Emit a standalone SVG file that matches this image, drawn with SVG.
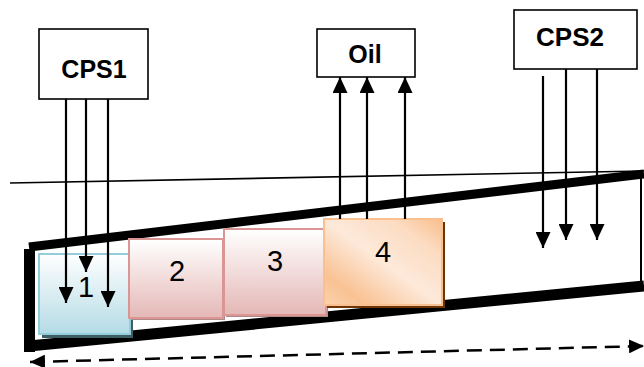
<svg xmlns="http://www.w3.org/2000/svg" width="644" height="367" viewBox="0 0 644 367">
<defs>
<style>
.box{fill:#fff;stroke:#000;stroke-width:1.6}
.lbl{font-family:"Liberation Sans",Arial,sans-serif;font-weight:bold;font-size:25px;fill:#000;text-anchor:middle}
.num{font-family:"Liberation Sans",Arial,sans-serif;font-size:29px;fill:#000;text-anchor:middle}
.wall{stroke:#000;fill:none;stroke-linecap:butt}
.conn{stroke:#000;stroke-width:2.2;fill:none;marker-end:url(#ah)}
</style>
<marker id="ah" markerUnits="userSpaceOnUse" markerWidth="16" markerHeight="15" refX="16" refY="7.5" orient="auto">
<path d="M0,0 L16,7.5 L0,15 z" fill="#000"/>
</marker>
<marker id="ahs" markerUnits="userSpaceOnUse" markerWidth="15" markerHeight="14" refX="15" refY="7" orient="auto-start-reverse">
<path d="M0,0 L15,7 L0,14 z" fill="#000"/>
</marker>
<linearGradient id="gBlue" x1="0" y1="0" x2="0" y2="1">
<stop offset="0" stop-color="#ffffff"/>
<stop offset="1" stop-color="#b4dbe5"/>
</linearGradient>
<linearGradient id="gPink" x1="0" y1="0" x2="0" y2="1">
<stop offset="0" stop-color="#ffffff"/>
<stop offset="1" stop-color="#e4b8b6"/>
</linearGradient>
<linearGradient id="gOrange" x1="0" y1="1" x2="1" y2="0">
<stop offset="0" stop-color="#fbd2ad"/>
<stop offset="0.18" stop-color="#f9c293"/>
<stop offset="0.5" stop-color="#fde9da"/>
<stop offset="0.78" stop-color="#fcdcc2"/>
<stop offset="1" stop-color="#f9be8c"/>
</linearGradient>
</defs>
<rect width="644" height="367" fill="#fff"/>

<g id="channel">
<line x1="10" y1="183" x2="644" y2="171" stroke="#000" stroke-width="1.6"/>
<line class="wall" x1="29" y1="247" x2="644" y2="174" stroke-width="9"/>
<line class="wall" x1="29" y1="346" x2="644" y2="286" stroke-width="11"/>
<line class="wall" x1="29.5" y1="249" x2="29.5" y2="352" stroke-width="11"/>
<line class="wall" x1="641" y1="176" x2="641" y2="284" stroke-width="2"/>
</g>

<g id="block1">
<rect x="42" y="257" width="91" height="81" fill="#3d5d63"/>
<rect x="39" y="254" width="91" height="80" fill="url(#gBlue)" stroke="#93cddb" stroke-width="2"/>
<text class="num" x="86" y="297">1</text>
</g>
<g id="block2">
<rect x="131" y="241" width="94" height="79" fill="#b08886"/>
<rect x="129" y="239" width="94" height="79" fill="url(#gPink)" stroke="#d99694" stroke-width="2"/>
<text class="num" x="177" y="281">2</text>
</g>
<g id="block3">
<rect x="226" y="231" width="102" height="86" fill="#b08886"/>
<rect x="224" y="229" width="102" height="86" fill="url(#gPink)" stroke="#d99694" stroke-width="2"/>
<text class="num" x="275" y="271">3</text>
</g>
<g id="block4">
<rect x="327" y="222" width="118" height="86" fill="#6b3505"/>
<rect x="324" y="219" width="118" height="86" fill="url(#gOrange)" stroke="#fac090" stroke-width="2"/>
<text class="num" x="383" y="262">4</text>
</g>

<g id="cps1">
<rect class="box" x="39" y="29" width="109" height="70"/>
<text class="lbl" x="94" y="78">CPS1</text>
</g>
<g id="oil">
<rect class="box" x="317" y="29" width="98" height="48"/>
<text class="lbl" x="365" y="63">Oil</text>
</g>
<g id="cps2">
<rect class="box" x="514" y="10" width="123" height="59"/>
<text class="lbl" x="570" y="46" style="font-size:26px">CPS2</text>
</g>

<g id="connectors">
<line class="conn" x1="66" y1="99" x2="66" y2="303"/>
<line class="conn" x1="86" y1="99" x2="86" y2="272"/>
<line class="conn" x1="108" y1="99" x2="108" y2="307"/>
<line class="conn" x1="340" y1="219" x2="340" y2="77"/>
<line class="conn" x1="367" y1="219" x2="367" y2="77"/>
<line class="conn" x1="405" y1="219" x2="405" y2="77"/>
<line class="conn" x1="543" y1="76" x2="543" y2="248"/>
<line class="conn" x1="566" y1="69" x2="566" y2="240"/>
<line class="conn" x1="597" y1="69" x2="597" y2="240"/>
<line x1="30" y1="362" x2="644" y2="346" stroke="#000" stroke-width="2.5" stroke-dasharray="15 8" marker-start="url(#ahs)" marker-end="url(#ahs)"/>
</g>
</svg>
